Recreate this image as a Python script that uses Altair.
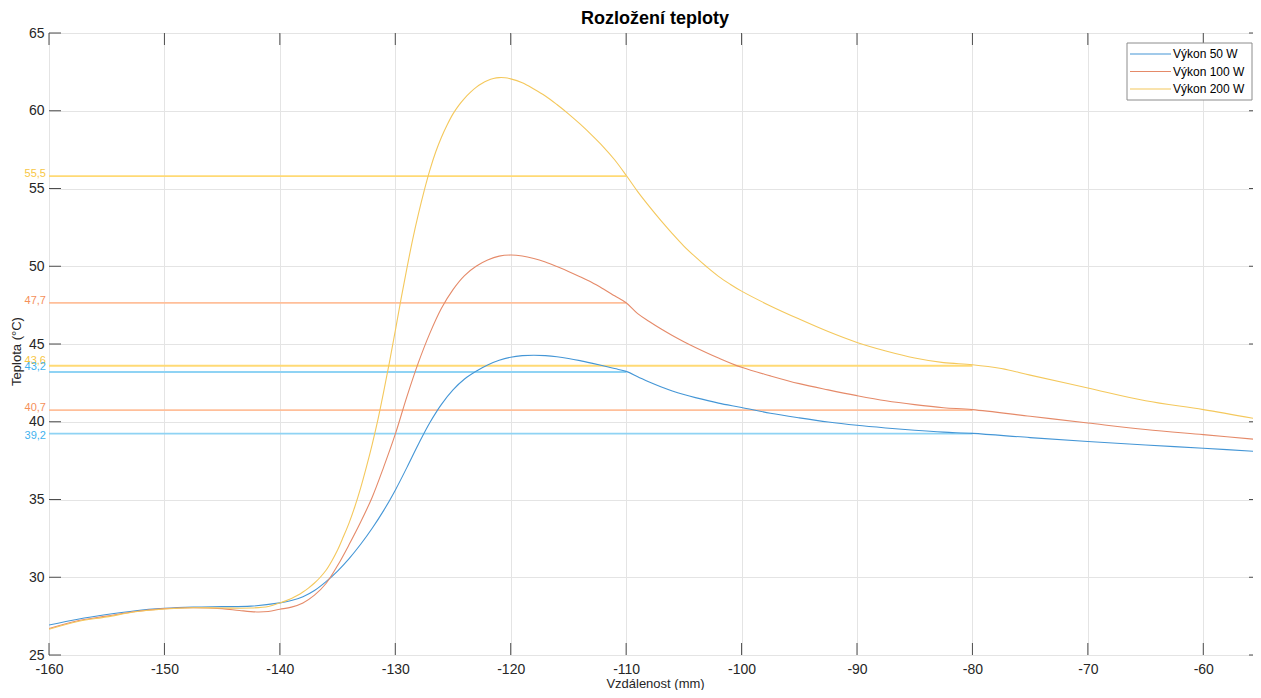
import altair as alt
import pandas as pd

# ---- data ----
series_names = ["Výkon 50 W", "Výkon 100 W", "Výkon 200 W"]

x_50 = [-160, -157.5, -155, -152.5, -150, -147.5, -145, -142.5, -140, -139, -138, -137, -136,
        -135, -134, -133, -132, -131, -130, -129, -128, -127, -126, -125, -124, -123, -122,
        -121, -120, -119, -118, -117, -116, -115, -114, -113, -112, -111, -110, -109, -108,
        -107, -106, -105, -104, -102, -100, -97.5, -95, -92.5, -90, -87.5, -85, -82.5, -80,
        -75, -70, -65, -60, -55]
t_50 = [26.93, 27.3, 27.6, 27.85, 28.0, 28.08, 28.11, 28.14, 28.35, 28.5, 28.75, 29.15, 29.72,
        30.4, 31.2, 32.12, 33.15, 34.3, 35.6, 37.05, 38.55, 39.95, 41.12, 42.05, 42.75, 43.25, 43.65,
        43.95, 44.15, 44.25, 44.28, 44.25, 44.18, 44.07, 43.93, 43.77, 43.6, 43.42, 43.24, 42.9, 42.55,
        42.25, 41.98, 41.75, 41.55, 41.2, 40.92, 40.55, 40.25, 39.98, 39.77, 39.6, 39.45, 39.33, 39.25,
        38.98, 38.73, 38.5, 38.3, 38.07]

x_100 = [-160, -157.5, -155, -152.5, -150, -147.5, -145, -143.5, -142, -141, -140, -139, -138,
         -137, -136, -135, -134, -133, -132, -131, -130, -129, -128, -127, -126, -125, -124,
         -123, -122, -121, -120, -119, -118, -117, -116, -115, -114, -113, -112, -111, -110,
         -109, -108, -107, -106, -105, -104, -102, -100, -97.5, -95, -92.5, -90, -87.5, -85,
         -82.5, -80, -75, -70, -65, -60, -55]
t_100 = [26.7, 27.2, 27.5, 27.8, 27.98, 28.04, 27.98, 27.86, 27.77, 27.8, 27.94, 28.08, 28.35,
         28.85, 29.6, 30.75, 32.1, 33.55, 35.15, 37.1, 39.2, 41.6, 43.8, 45.7, 47.3, 48.5, 49.4,
         50.0, 50.4, 50.65, 50.72, 50.66, 50.5, 50.27, 49.98, 49.67, 49.33, 48.97, 48.55, 48.1, 47.65,
         46.95, 46.45, 45.98, 45.55, 45.15, 44.78, 44.1, 43.5, 42.95, 42.45, 42.05, 41.68, 41.35, 41.1,
         40.9, 40.78, 40.35, 39.92, 39.5, 39.17, 38.84]

x_200 = [-160, -157.5, -155, -152.5, -150, -147.5, -145, -142.5, -141, -140, -139.5, -139,
         -138.5, -138, -137.5, -137, -136.5, -136, -135.5, -135, -134.5, -134, -133.5, -133,
         -132.5, -132, -131.5, -131, -130.5, -130, -129.5, -129, -128.5, -128, -127.5, -127,
         -126.5, -126, -125.5, -125, -124.5, -124, -123.5, -123, -122.5, -122, -121.5, -121,
         -120.5, -120, -119, -118, -117, -116, -115, -114, -113, -112, -111, -110, -109, -108,
         -107, -106, -105, -104, -103, -102, -101, -100, -97.5, -95, -92.5, -90, -87.5, -85,
         -82.5, -80, -77.5, -75, -70, -65, -60, -55]
t_200 = [26.65, 27.15, 27.45, 27.78, 27.96, 28.04, 28.02, 28.02, 28.12, 28.35, 28.48, 28.63,
         28.82, 29.05, 29.32, 29.63, 30.0, 30.45, 31.05, 31.75, 32.6, 33.5, 34.55, 35.75,
         37.1, 38.55, 40.15, 41.95, 43.85, 45.85, 47.9, 49.85, 51.7, 53.35, 54.85, 56.2,
         57.35, 58.3, 59.1, 59.8, 60.35, 60.8, 61.18, 61.5, 61.75, 61.94, 62.07, 62.13,
         62.12, 62.05, 61.8, 61.4, 60.95, 60.4, 59.8, 59.15, 58.45, 57.7, 56.85, 55.85, 54.8, 53.85,
         52.95, 52.1, 51.3, 50.6, 49.95, 49.35, 48.85, 48.4, 47.45, 46.6, 45.8, 45.1, 44.55, 44.1,
         43.8, 43.67, 43.42, 43.0, 42.17, 41.35, 40.78, 40.13]

# horizontal reference lines (annotations)
ref_power = ["Výkon 200 W", "Výkon 100 W", "Výkon 200 W", "Výkon 50 W", "Výkon 100 W", "Výkon 50 W"]
ref_value = [55.8, 47.65, 43.6, 43.2, 40.75, 39.23]
ref_start = [-160, -160, -160, -160, -160, -160]
ref_end = [-110, -110, -80, -110, -80, -80]
ref_label = ["55,5", "47,7", "43,6", "43,2", "40,7", "39,2"]

x_ticks = [-160, -150, -140, -130, -120, -110, -100, -90, -80, -70, -60]
y_ticks = [25, 30, 35, 40, 45, 50, 55, 60, 65]
chart_title = "Rozložení teploty"

# ---- styling ----
curve_colors = ["#4496d6", "#e58a69", "#f4c85c"]
ref_colors = ["#8fd3f4", "#ffbf9a", "#ffda75"]
label_colors = ["#3fb2ee", "#f5905a", "#f7c745"]
FONT = "Liberation Sans"
W, H = 1212, 622

rows = []
for name, xs, ts in zip(series_names, [x_50, x_100, x_200], [t_50, t_100, t_200]):
    for i, (a, b) in enumerate(zip(xs, ts)):
        rows.append({"series": name, "x": a, "t": b, "order": i})
df = pd.DataFrame(rows)

ref_df = pd.DataFrame({"power": ref_power, "v": ref_value, "x1": ref_start,
                       "x2": ref_end, "lab": ref_label})
one = pd.DataFrame({"k": [0]})

xscale = alt.Scale(domain=[-160, -55], nice=False, zero=False)
yscale = alt.Scale(domain=[25, 65], nice=False, zero=False)
XT = "Vzdálenost (mm)"
YT = "Teplota (°C)"

x_axis = alt.Axis(values=x_ticks, labelExpr="datum.value + ''", grid=True, ticks=False,
                  domain=False, labelFontSize=14, labelPadding=7, labelFlush=False,
                  titleFontSize=13, titlePadding=1, titleFontWeight="normal")
y_axis = alt.Axis(values=y_ticks, labelExpr="datum.value + ''", grid=True, ticks=False,
                  domain=False, labelFontSize=14, labelPadding=5, labelFlush=False,
                  titleFontSize=13, titlePadding=5, titleFontWeight="normal", titleY=318)

refs = alt.Chart(ref_df).mark_rule(strokeWidth=1.8).encode(
    x=alt.X("x1:Q", scale=xscale, title=XT, axis=x_axis),
    x2="x2:Q",
    y=alt.Y("v:Q", scale=yscale, title=YT, axis=y_axis),
    stroke=alt.Stroke("power:N", scale=alt.Scale(domain=series_names, range=ref_colors), legend=None),
)

curves = alt.Chart(df).mark_line(strokeWidth=1.1, interpolate="catmull-rom", clip=True).encode(
    x=alt.X("x:Q", scale=xscale, title=XT),
    y=alt.Y("t:Q", scale=yscale, title=YT),
    color=alt.Color("series:N", scale=alt.Scale(domain=series_names, range=curve_colors),
                    legend=None),
    order="order:Q",
)


def label_layer(filter_expr, dy):
    return alt.Chart(ref_df).transform_filter(filter_expr).mark_text(
        align="right", baseline="middle", fontSize=11, font=FONT, dy=dy
    ).encode(
        x=alt.value(-3),
        y=alt.Y("v:Q", scale=yscale, title=YT),
        text="lab:N",
        fill=alt.Fill("power:N", scale=alt.Scale(domain=series_names, range=label_colors),
                      legend=None),
    )


labels_a = label_layer("datum.lab == '43,6' || datum.lab == '43,2'", -5)
labels_b = label_layer("datum.lab == '55,5' || datum.lab == '47,7' || datum.lab == '40,7'", -2)
labels_c = label_layer("datum.lab == '39,2'", 2)

xt = pd.DataFrame({"v": x_ticks})
yt = pd.DataFrame({"v": y_ticks})
TICK = "#4d4d4d"
tick_b = alt.Chart(xt).mark_rule(color=TICK).encode(
    x=alt.X("v:Q", scale=xscale, title=XT), y=alt.value(H), y2=alt.value(H - 12))
tick_t = alt.Chart(xt).mark_rule(color=TICK).encode(
    x=alt.X("v:Q", scale=xscale, title=XT), y=alt.value(0), y2=alt.value(12))
tick_l = alt.Chart(yt).mark_rule(color=TICK).encode(
    y=alt.Y("v:Q", scale=yscale, title=YT), x=alt.value(0), x2=alt.value(12))
tick_r = alt.Chart(yt).mark_rule(color=TICK).encode(
    y=alt.Y("v:Q", scale=yscale, title=YT), x=alt.value(W), x2=alt.value(W - 12))

# ---- legend box (MATLAB style, top-right inside the axes) ----
LX0, LX1, LY0, LY1 = 1078, 1203, 10, 67
legend_layers = [
    alt.Chart(one).mark_rect(fill="#ffffff", stroke="#8c8c8c", strokeWidth=1).encode(
        x=alt.value(LX0), x2=alt.value(LX1), y=alt.value(LY0), y2=alt.value(LY1))
]
for i, name in enumerate(series_names):
    ly = LY0 + 11 + 17.5 * i
    legend_layers.append(
        alt.Chart(one).mark_rule(strokeWidth=1.1).encode(
            x=alt.value(LX0 + 3), x2=alt.value(LX0 + 44), y=alt.value(ly),
            color=alt.value(curve_colors[i])))
    legend_layers.append(
        alt.Chart(one).mark_text(align="left", baseline="middle", fontSize=12, font=FONT,
                                 color="#000000").encode(
            x=alt.value(LX0 + 46), y=alt.value(ly), text=alt.value(name)))

title_mark = alt.Chart(one).mark_text(align="center", baseline="alphabetic", fontSize=18,
                                      fontWeight="bold", font=FONT, color="#000000").encode(
    x=alt.value(W / 2), y=alt.value(-9), text=alt.value(chart_title))

chart = alt.layer(refs, curves, labels_a, labels_b, labels_c,
                  tick_b, tick_t, tick_l, tick_r, *legend_layers, title_mark).properties(
    width=W, height=H,
    autosize=alt.AutoSizeParams(type="none"),
    padding={"left": 41, "top": 25, "right": -8, "bottom": 35},
).configure_view(stroke="#6e6e6e", strokeWidth=1).configure_axis(
    labelFont=FONT, titleFont=FONT, labelColor="#262626", titleColor="#262626",
    gridColor="#e4e4e4", gridWidth=1,
)

chart.save("out.html", embed_options={"renderer": "svg", "actions": False})
